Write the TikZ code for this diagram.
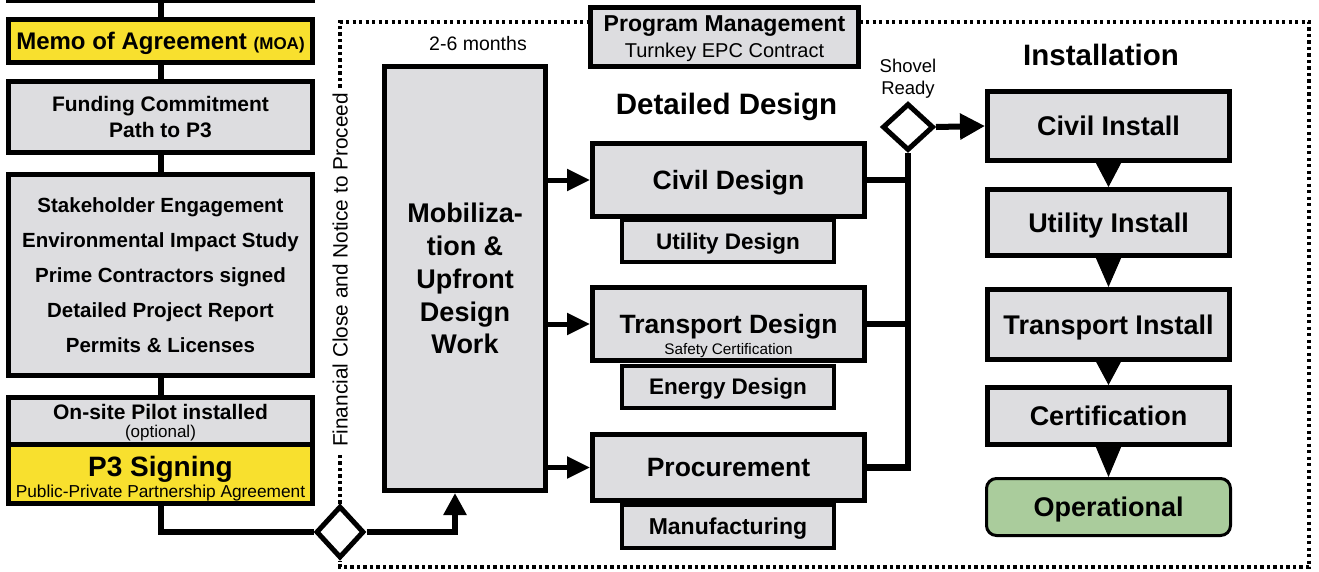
\documentclass[tikz,border=0pt]{standalone}
\usepackage{fontspec}
\setmainfont{Liberation Sans}
\usetikzlibrary{shapes.geometric,arrows.meta}
\definecolor{boxgray}{RGB}{221,221,224}
\definecolor{memoyellow}{RGB}{248,224,46}
\definecolor{opgreen}{RGB}{170,204,156}
\newcommand{\fsz}[2]{\fontsize{#1}{#2}\selectfont}
\begin{document}
\begin{tikzpicture}[x=1pt,y=-1pt,
  box/.style={draw=black, fill=boxgray, line width=5pt, rectangle, inner sep=0pt, align=center, text depth=0pt},
  subbox/.style={box, line width=4pt},
  yellowbox/.style={box, fill=memoyellow},
  conn/.style={line width=6pt},
  dotframe/.style={line width=3.2pt, dash pattern=on 3.2pt off 3.3pt},
  lbl/.style={inner sep=0pt, align=center, text depth=0pt},
  decision/.style={diamond, draw=black, fill=white, line width=5pt, inner sep=0pt},
  midarrow/.style={line width=5pt, -{Triangle[length=23pt,width=21pt]}},
  downarrow/.style={line width=1pt, -{Triangle[length=#1,width=25pt]}}
]
\clip (0,0) rectangle (1319,571);
\fill[white] (0,0) rectangle (1319,571);

% ---------- dotted frame ----------
\node[decision, minimum width=48pt, minimum height=52pt] (d1) at (340,532) {};
\draw[dotframe] (d1.north) -- (340,22) -- (1309,22) -- (1309,567) -- (340,567) -- (d1.south);
\node[lbl, rotate=90, fill=white, inner sep=5pt, font=\fsz{20.8}{24}] (fin) at (340,270) {Financial Close and Notice to Proceed};

% ---------- left column ----------
\node[box, minimum width=304pt, minimum height=50pt] (prev) at (160.5,-25) {};
\node[yellowbox, minimum width=304pt, minimum height=43pt, font=\fsz{24}{28}\bfseries] (memo) at (160.5,41)
  {Memo of Agreement {\fsz{17}{20}(MOA)}};
\node[box, minimum width=304pt, minimum height=71pt, font=\fsz{21}{26}\bfseries] (fund) at (160.5,117)
  {Funding Commitment\\Path to P3};
\node[box, minimum width=304pt, minimum height=201pt, font=\fsz{20.5}{35}\bfseries] (stake) at (160.5,275)
  {Stakeholder Engagement\\Environmental Impact Study\\Prime Contractors signed\\Detailed Project Report\\Permits \& Licenses};
\node[box, minimum width=304pt, minimum height=46.5pt] (pilot) at (160.5,420.75) {};
\node[yellowbox, minimum width=304pt, minimum height=59.5pt] (p3) at (160.5,473.75) {};
\node[lbl, font=\fsz{21}{24}\bfseries] (pilott) at (160.5,412) {On-site Pilot installed};
\node[lbl, font=\fsz{17}{20}] (pilots) at (160.5,431) {(optional)};
\node[lbl, font=\fsz{28}{32}\bfseries] (p3t) at (160.5,466) {P3 Signing};
\node[lbl, font=\fsz{17.3}{20}] (p3s) at (160.5,491) {Public-Private Partnership Agreement};

\draw[conn] (prev.south) -- (memo.north);
\draw[conn] (memo.south) -- (fund.north);
\draw[conn] (fund.south) -- (stake.north);
\draw[conn] (stake.south) -- (pilot.north);
\draw[conn] (p3.south) |- (d1.west);

% ---------- mobilization ----------
\node[box, minimum width=161pt, minimum height=424pt, font=\fsz{27}{32.75}\bfseries] (mob) at (465,278.5)
  {Mobiliza-\\tion \&\\Upfront\\Design\\Work};
\node[lbl, font=\fsz{19.5}{22}] (months) at (478,43) {2-6 months};
\draw[conn, -{Triangle[length=22pt,width=22pt]}] (d1.east) -| ([xshift=-10pt]mob.south);

% ---------- program management ----------
\node[box, minimum width=268pt, minimum height=59pt] (pm) at (724.5,37) {};
\node[lbl, font=\fsz{23}{26}\bfseries] (pmt) at (724.5,24) {Program Management};
\node[lbl, font=\fsz{20}{24}] (pms) at (724.5,50) {Turnkey EPC Contract};

% ---------- detailed design ----------
\node[lbl, font=\fsz{29.5}{34}\bfseries] (ddh) at (726.5,104) {Detailed Design};
\node[subbox, minimum width=212pt, minimum height=42pt, font=\fsz{22.5}{26}\bfseries] (ud) at (728,241) {Utility Design};
\node[box, minimum width=272pt, minimum height=73pt, font=\fsz{26.5}{30}\bfseries] (civ) at (728.5,180) {Civil Design};
\node[subbox, minimum width=212pt, minimum height=42pt, font=\fsz{22.5}{26}\bfseries] (ed) at (728,386.5) {Energy Design};
\node[box, minimum width=272pt, minimum height=73pt, font=\fsz{26.5}{30}\bfseries] (tra) at (728.5,324) {Transport Design};
\node[lbl, font=\fsz{15.3}{18}] (tras) at (728.5,349) {Safety Certification};
\node[subbox, minimum width=212pt, minimum height=43pt, font=\fsz{23}{26}\bfseries] (mf) at (728,526) {Manufacturing};
\node[box, minimum width=272pt, minimum height=66pt, font=\fsz{26.5}{30}\bfseries] (pro) at (728.5,467.5) {Procurement};

\draw[midarrow] (mob.east |- civ.west) -- (civ.west);
\draw[midarrow] (mob.east |- tra.west) -- (tra.west);
\draw[midarrow] (mob.east |- pro.west) -- (pro.west);

% ---------- shovel ready ----------
\node[decision, minimum width=51pt, minimum height=47pt] (d2) at (908,127) {};
\node[lbl, font=\fsz{18.5}{22}] (shovel) at (908,77) {Shovel\\Ready};
\draw[line width=6.5pt] (pro.east) -| (d2.south);
\draw[conn] (civ.east) -- (civ.east -| d2.south);
\draw[conn] (tra.east) -- (tra.east -| d2.south);

% ---------- installation ----------
\node[lbl, font=\fsz{29.5}{34}\bfseries] (insth) at (1101,55) {Installation};
\node[box, minimum width=242pt, minimum height=69pt, font=\fsz{27}{30}\bfseries] (ci) at (1108.5,126) {Civil Install};
\node[box, minimum width=242pt, minimum height=66pt, font=\fsz{27}{30}\bfseries] (ui) at (1108.5,222.5) {Utility Install};
\node[box, minimum width=242pt, minimum height=70pt, font=\fsz{27}{30}\bfseries] (ti) at (1108.5,324.5) {Transport Install};
\node[box, minimum width=242pt, minimum height=57pt, font=\fsz{27}{30}\bfseries] (cert) at (1108.5,416) {Certification};
\node[box, fill=opgreen, line width=3pt, rounded corners=10pt, minimum width=244pt, minimum height=57pt, font=\fsz{27}{30}\bfseries] (op) at (1108.5,507) {Operational};

\draw[conn, -{Triangle[length=25pt,width=25pt]}] (d2.east) -- (ci.west);
\draw[downarrow=24pt] (ci.south) -- (ui.north);
\draw[downarrow=29pt] (ui.south) -- (ti.north);
\draw[downarrow=23.5pt] (ti.south) -- (cert.north);
\draw[downarrow=30pt] (cert.south) -- (op.north);
\end{tikzpicture}
\end{document}
